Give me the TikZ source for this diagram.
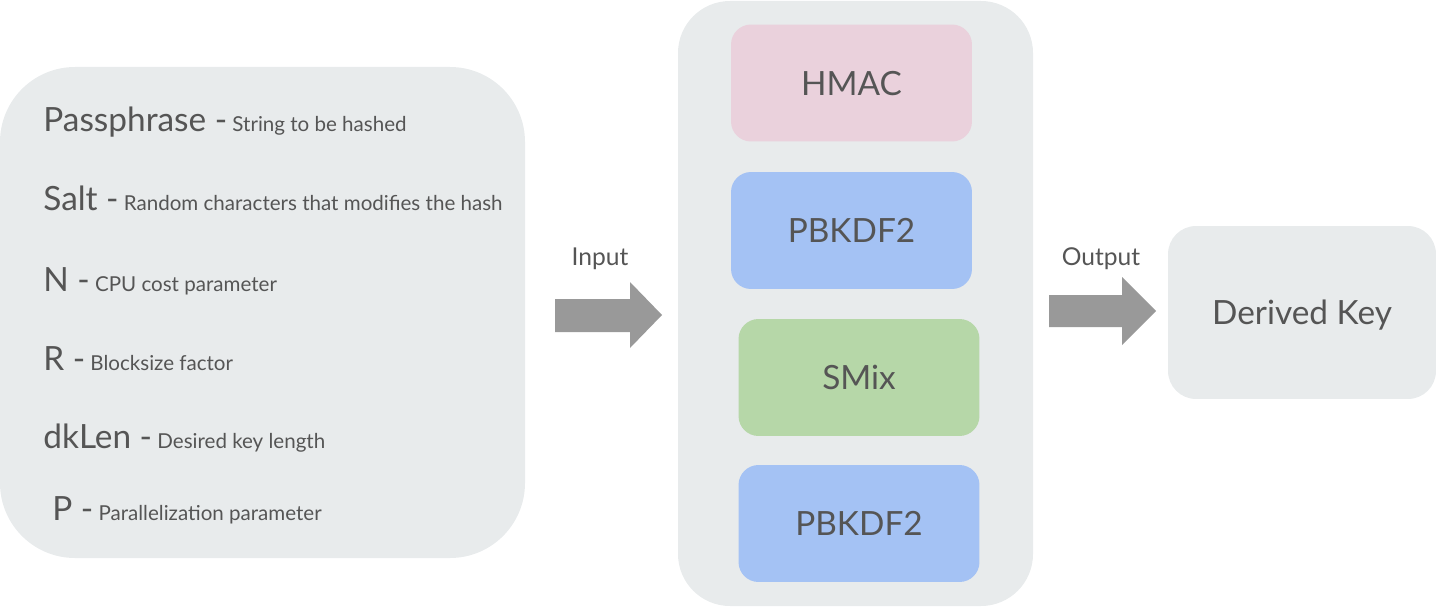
\documentclass[tikz,border=0pt]{standalone}
\usepackage{fontspec}
\setmainfont{Lato}
\usepackage{tikz}
\usetikzlibrary{positioning}
\definecolor{cpanel}{HTML}{E8EBEC}
\definecolor{cpink}{HTML}{EAD1DC}
\definecolor{cblue}{HTML}{A4C2F4}
\definecolor{cgreen}{HTML}{B6D7A8}
\definecolor{carrow}{HTML}{999999}
\definecolor{cink}{HTML}{555555}
\tikzset{
  stage/.style={rounded corners=0.4cm,minimum width=4.82cm,minimum height=2.34cm,
    inner sep=0pt,text=cink,text depth=0pt,font=\fontsize{19}{22}\selectfont},
  param/.style={anchor=base west,inner sep=0pt,text=cink},
  flowlabel/.style={anchor=base,inner sep=0pt,text=cink,font=\fontsize{14}{16}\selectfont},
}
\newcommand\pname[1]{{\fontsize{19}{22}\selectfont #1 -}}
\newcommand\pdesc[1]{{\fontsize{11.7}{14}\selectfont\ #1}}

\begin{document}
\begin{tikzpicture}[x=0.02cm,y=-0.02cm]
\useasboundingbox (0,0) rectangle (1436,608);

% ============ Inputs ============
\fill[cpanel,rounded corners=1.5cm] (0,67) rectangle (525,558);
\node[param] (pass)  at (43,132) {\pname{Passphrase}\pdesc{String to be hashed}};
\node[param] (salt)  at (43,210) {\pname{Salt}\pdesc{Random characters that modifies the hash}};
\node[param] (cost)  at (43,291) {\pname{N}\pdesc{CPU cost parameter}};
\node[param] (block) at (43,370) {\pname{R}\pdesc{Blocksize factor}};
\node[param] (dklen) at (43,448) {\pname{dkLen}\pdesc{Desired key length}};
\node[param] (par)   at (52,520) {\pname{P}\pdesc{Parallelization parameter}};

% ============ Input arrow ============
\fill[carrow] (555,299) -- (630,299) -- (630,282) -- (662,315) -- (630,348) -- (630,332) -- (555,332) -- cycle;
\node[flowlabel] (inlabel) at (600,265) {Input};

% ============ scrypt stages ============
\fill[cpanel,rounded corners=1.04cm] (678,1) rectangle (1033,606);
\node[stage,fill=cpink]  (hmac)   at (851.5,83)    {HMAC};
\node[stage,fill=cblue]  (pbkdfa) at (851.5,230.5) {PBKDF2};
\node[stage,fill=cgreen] (smix)   at (859,377.5)   {SMix};
\node[stage,fill=cblue]  (pbkdfb) at (859,523.5)   {PBKDF2};

% ============ Output arrow ============
\fill[carrow] (1049,295) -- (1122,295) -- (1122,277) -- (1156,311) -- (1122,345) -- (1122,327) -- (1049,327) -- cycle;
\node[flowlabel] (outlabel) at (1101,265) {Output};

% ============ Result ============
\node[rounded corners=0.56cm,fill=cpanel,minimum width=5.36cm,minimum height=3.46cm,
  inner sep=0pt,text=cink,text depth=0pt,font=\fontsize{19}{22}\selectfont] (key) at (1302,312.5) {Derived Key};

\end{tikzpicture}
\end{document}
